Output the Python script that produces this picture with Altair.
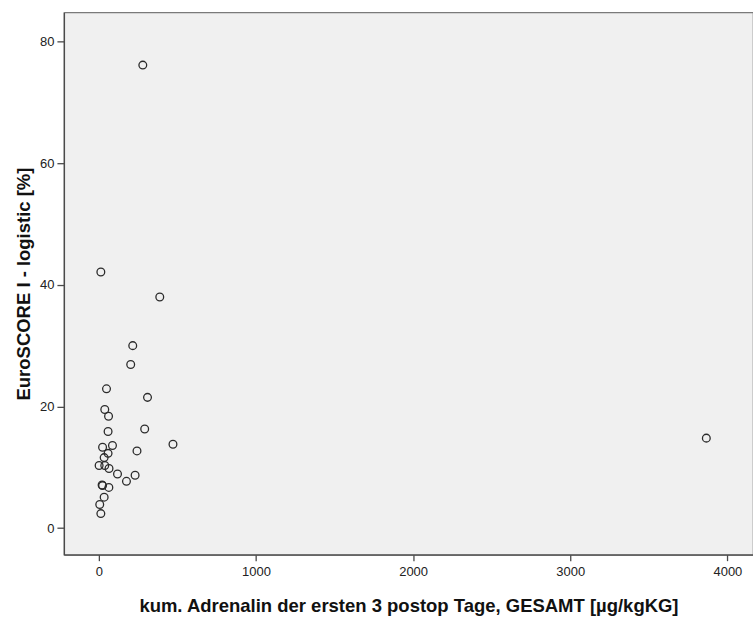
import altair as alt
import pandas as pd

# cumulative adrenaline over first 3 postoperative days [µg/kgKG]
adrenalin = [280, 13, 388, 216, 203, 3866,
             49, 310, 38, 62, 59, 292, 472, 24, 87, 59, 243, 34,
             2, 38, 65, 119, 231, 176, 21, 24, 64, 34, 6, 13]
# logistic EuroSCORE I [%]
euroscore = [76.1, 42.1, 38.0, 30.0, 26.9, 14.8,
             22.9, 21.5, 19.5, 18.4, 15.9, 16.3, 13.8, 13.3, 13.6, 12.3, 12.7, 11.6,
             10.3, 10.3, 9.8, 8.9, 8.7, 7.7, 7.1, 7.0, 6.7, 5.1, 3.9, 2.4]

x_ticks = [0, 1000, 2000, 3000, 4000]
y_ticks = [0, 20, 40, 60, 80]

df = pd.DataFrame({"adrenalin": adrenalin, "euroscore": euroscore})

chart = (
    alt.Chart(df)
    .mark_point(shape="circle", filled=False, size=60, stroke="#2b2b2b", strokeWidth=1.3, opacity=1)
    .encode(
        x=alt.X(
            "adrenalin:Q",
            scale=alt.Scale(domain=[-222, 4163], nice=False, zero=False),
            axis=alt.Axis(
                values=x_ticks,
                format="d",
                title="kum. Adrenalin der ersten 3 postop Tage, GESAMT [µg/kgKG]",
                titlePadding=18,
                tickSize=6,
                labelPadding=5,
            ),
        ),
        y=alt.Y(
            "euroscore:Q",
            scale=alt.Scale(domain=[-4.35, 84.76], nice=False, zero=False),
            axis=alt.Axis(
                values=y_ticks,
                format="d",
                title="EuroSCORE I - logistic [%]",
                titlePadding=6,
                tickSize=7,
                labelPadding=3,
            ),
        ),
    )
    .properties(
        width=690,
        height=543,
        autosize=alt.AutoSizeParams(type="none"),
        padding={"left": 64, "top": 12, "right": 0, "bottom": 62},
    )
    .configure_view(fill="#f0f0f0", stroke="#7a7a7a", strokeWidth=1.2)
    .configure_axis(
        domainColor="#4a4a4a",
        domainWidth=1.3,
        tickColor="#4a4a4a",
        tickWidth=1.3,
        grid=False,
        labelFont="Liberation Sans",
        labelFontSize=13,
        labelColor="#222222",
        titleFont="Liberation Sans",
        titleFontSize=18.5,
        titleFontWeight="bold",
        titleColor="#111111",
    )
)

chart.save("out.html", embed_options={"renderer": "svg", "actions": False})
